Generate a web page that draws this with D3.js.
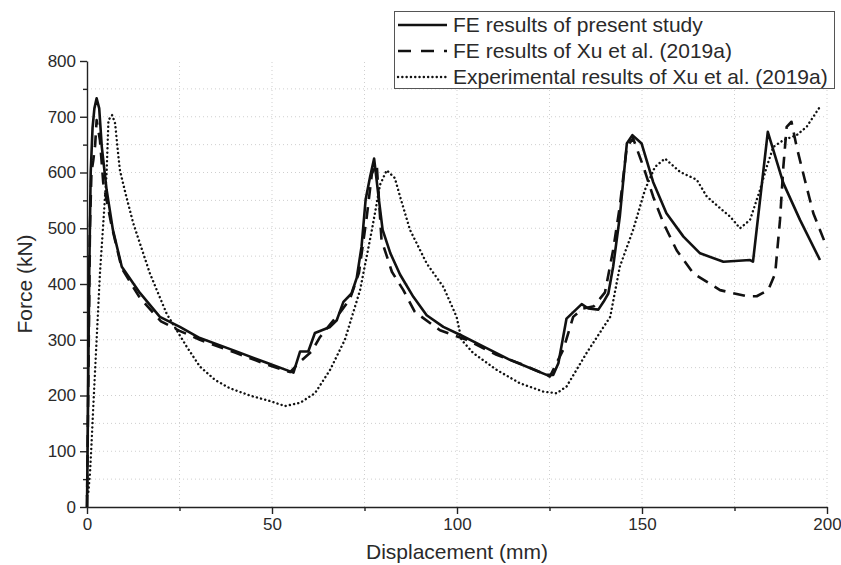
<!DOCTYPE html>
<meta charset="utf-8">
<style>
body { margin: 0; background: #fff; }
svg { font-family: "Liberation Sans", Arial, sans-serif; }
.grid line { stroke: #cfcfcf; stroke-width: 1; stroke-dasharray: 1,3; }
.axis path, .axis line { stroke: #222; stroke-width: 1.4; }
.axis text { font-size: 17px; fill: #2a2a2a; }
.curve { fill: none; stroke: #111; stroke-linejoin: round; }
</style>
<svg width="841" height="565"></svg>
<script src="https://cdn.jsdelivr.net/npm/d3@7"></script>
<script>

// FE results of present study
var feX = [0, 0.3, 0.6, 1.0, 1.5, 2.0, 2.6, 3.3, 4.0, 5.3, 7.0, 9.4, 14.3, 19.7, 25.1, 30.5, 40, 48, 55.8,
  57.6, 59.8, 61.6, 65.7, 67.5, 69.3, 71.5, 72.9, 74.2, 75.3, 76.5, 77.6, 78.9, 79.9, 82, 84.6, 88.2, 91.8, 96.3,
  100.8, 108, 114.3, 124.2, 126, 127.4, 129.6, 133.7, 135.5, 138.2, 139.6, 140.9, 142.2, 144, 145.9, 147.4, 149.9,
  153, 156.6, 161.2, 165.7, 172, 179.2, 180, 184, 188.2, 192.7, 198.1];
var feY = [0, 200, 420, 600, 680, 715, 733, 715, 646, 569, 497, 431, 384, 341, 323, 303, 280, 260, 241,
  279, 279, 312, 323, 335, 368, 383, 411, 467, 551, 592, 625, 551, 497, 455, 417, 377, 344, 323,
  309, 285, 264, 237, 237, 258, 338, 364, 356, 354, 368, 383, 431, 521, 652, 667, 652,
  583, 527, 485, 455, 440, 443, 440, 673, 581, 515, 443];

// FE results of Xu et al. (2019a)
var xuX = [0, 0.4, 0.8, 1.2, 1.7, 2.2, 2.6, 3.5, 4.4, 6.7, 9.4, 14.3, 20, 25, 30.5, 40, 48, 54.9,
  57.5, 60.7, 63, 66, 68.5, 71, 73.5, 75.6, 77, 78.3, 79.6, 82.4, 85.5, 88.6, 95.4, 102.6, 110.7, 117.9, 125.1,
  128.7, 131.4, 134, 137, 140, 142.2, 144, 145.9, 147.6, 150.4, 153, 155.8, 159.4, 163.9, 171.1, 178.3, 181,
  184.1, 186, 187.3, 188.2, 189.1, 190.4, 191.8, 194, 196.3, 200];
var xuY = [0, 250, 500, 600, 622, 649, 694, 658, 581, 503, 428, 375, 333, 316, 300, 277, 257, 242,
  260, 279, 305, 330, 350, 372, 420, 520, 598, 615, 479, 422, 389, 350, 317, 300, 273, 255, 234,
  282, 341, 356, 360, 385, 461, 539, 646, 661, 610, 557, 509, 460, 419, 389, 378, 378,
  389, 419, 515, 610, 682, 691, 646, 587, 527, 465];

// Experimental results of Xu et al. (2019a)
var expX = [0, 0.35, 0.8, 1.2, 1.7, 2.6, 3.5, 4.4, 5.3, 5.8, 6.8, 7.6, 8.5, 8.9, 10.5, 12.5, 17, 21.5, 26.9,
  30.5, 34.6, 38.6, 44, 49.5, 53.5, 57.6, 61.6, 65.7, 69.7, 73.8, 77, 79.2, 81, 83.2, 84.6, 87.3, 91.8, 96.3,
  99.9, 101.2, 104.4, 110.7, 117, 123.3, 126.9, 129.6, 135, 141.4, 144, 147.6, 150.8, 153.5, 156.2, 160.3,
  164.8, 167.5, 171.1, 173.8, 176.5, 179.2, 181.9, 183.7, 185.5, 188.2, 191.8, 194.5, 198.1];
var expY = [20, 25, 60, 110, 180, 300, 419, 509, 599, 694, 703, 688, 628, 604, 560, 509, 419, 347, 288,
  252, 228, 213, 200, 190, 181, 187, 204, 246, 300, 389, 497, 578, 604, 590, 557, 497, 437, 395,
  341, 300, 276, 246, 222, 207, 204, 216, 276, 341, 431, 497, 569, 610, 625, 601,
  587, 557, 536, 521, 500, 515, 569, 610, 646, 658, 667, 682, 718];

var xTicks = [0, 50, 100, 150, 200];
var yTicks = [0, 100, 200, 300, 400, 500, 600, 700, 800];

var legendLabels = ["FE results of present study", "FE results of Xu et al. (2019a)",
  "Experimental results of Xu et al. (2019a)"];

var svg = d3.select("svg");
var margin = {left: 87, right: 14, top: 61, bottom: 58};
var width = 841, height = 565;

var x = d3.scaleLinear().domain([0, 200]).range([margin.left, width - margin.right]);
var y = d3.scaleLinear().domain([0, 800]).range([height - margin.bottom, margin.top]);

// grid
var grid = svg.append("g").attr("class", "grid");
grid.selectAll(".gx").data(d3.range(25, 201, 25)).enter().append("line")
    .attr("x1", x).attr("x2", x)
    .attr("y1", y(0)).attr("y2", y(800));
grid.selectAll(".gy").data(d3.range(50, 751, 50)).enter().append("line")
    .attr("x1", x(0)).attr("x2", x(200))
    .attr("y1", y).attr("y2", y);

// axes
svg.append("g").attr("class", "axis")
    .attr("transform", "translate(0," + y(0) + ")")
    .call(d3.axisBottom(x).tickValues(xTicks).tickSize(7).tickPadding(4).tickSizeOuter(0));
svg.append("g").attr("class", "axis")
    .attr("transform", "translate(0," + y(0) + ")")
    .call(d3.axisBottom(x).tickValues([25, 75, 125, 175]).tickSize(4).tickFormat("").tickSizeOuter(0))
    .select(".domain").remove();

svg.append("g").attr("class", "axis")
    .attr("transform", "translate(" + x(0) + ",0)")
    .call(d3.axisLeft(y).tickValues(yTicks).tickSize(7).tickPadding(4).tickSizeOuter(0));
svg.append("g").attr("class", "axis")
    .attr("transform", "translate(" + x(0) + ",0)")
    .call(d3.axisLeft(y).tickValues(d3.range(50, 800, 100)).tickSize(4).tickFormat("").tickSizeOuter(0))
    .select(".domain").remove();

svg.append("text")
    .attr("x", (x(0) + x(200)) / 2).attr("y", 559)
    .attr("text-anchor", "middle").attr("font-size", 21).attr("fill", "#2a2a2a")
    .text("Displacement (mm)");
svg.append("text")
    .attr("transform", "translate(32," + (y(0) + y(800)) / 2 + ") rotate(-90)")
    .attr("text-anchor", "middle").attr("font-size", 21).attr("fill", "#2a2a2a")
    .text("Force (kN)");

// curves
var line = d3.line().x(function(d) { return x(d[0]); }).y(function(d) { return y(d[1]); });

var styles = [
  {dash: null, w: 2.6, cap: "butt"},
  {dash: "12,8", w: 2.6, cap: "butt"},
  {dash: "0.1,4.2", w: 2.4, cap: "round"}
];
var series = [d3.zip(feX, feY), d3.zip(xuX, xuY), d3.zip(expX, expY)];

series.forEach(function(s, i) {
  svg.append("path").attr("class", "curve")
      .attr("d", line(s))
      .attr("stroke-width", styles[i].w)
      .attr("stroke-dasharray", styles[i].dash)
      .attr("stroke-linecap", styles[i].cap);
});

// legend
var lg = svg.append("g");
lg.append("rect").attr("x", 394.5).attr("y", 11.5).attr("width", 440).attr("height", 77)
    .attr("fill", "#fff").attr("stroke", "#555").attr("stroke-width", 1);
legendLabels.forEach(function(t, i) {
  var yy = 25 + i * 26;
  lg.append("line").attr("x1", 398).attr("x2", 447).attr("y1", yy).attr("y2", yy)
      .attr("stroke", "#111").attr("stroke-width", styles[i].w)
      .attr("stroke-dasharray", i == 1 ? "13,10" : styles[i].dash)
      .attr("stroke-linecap", styles[i].cap);
  lg.append("text").attr("x", 453).attr("y", yy + 7)
      .attr("font-size", 21).attr("fill", "#2a2a2a").text(t);
});

</script>
